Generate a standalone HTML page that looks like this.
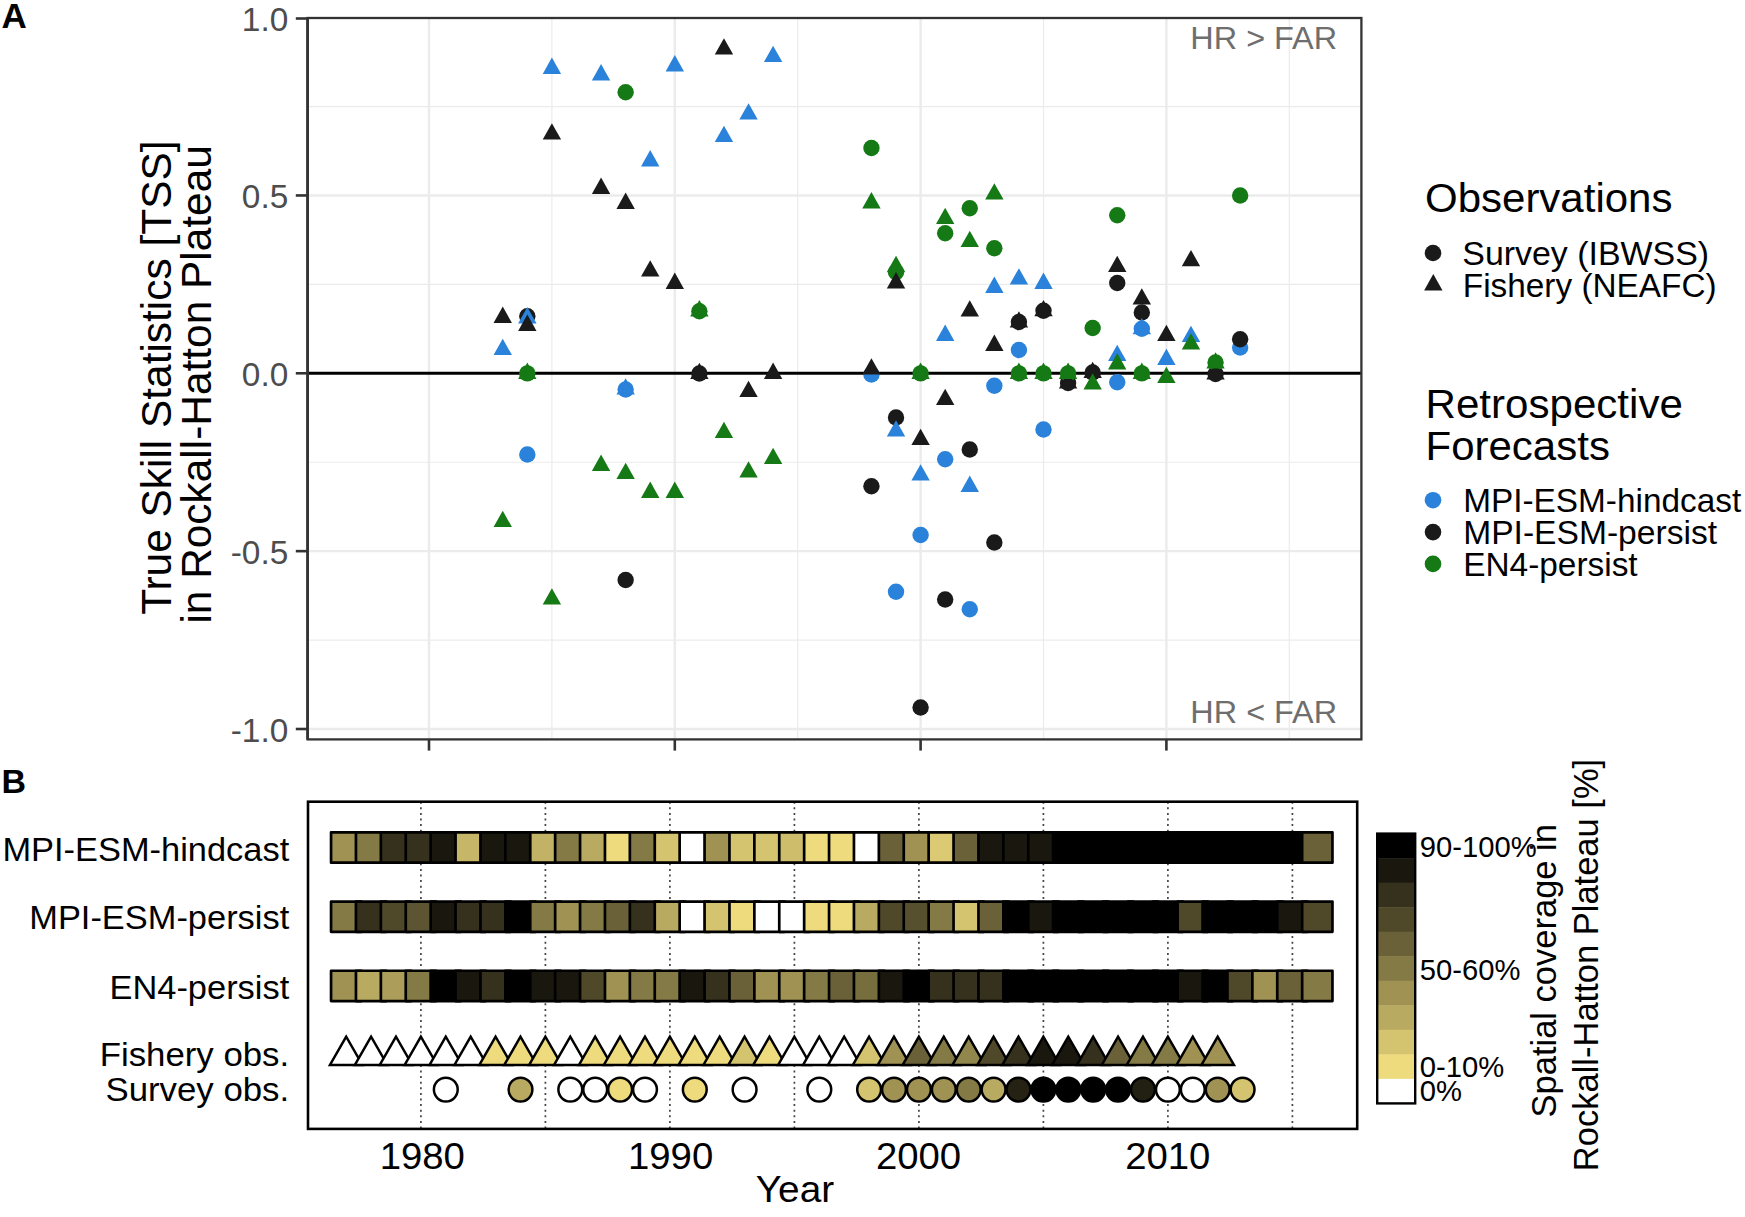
<!DOCTYPE html>
<html lang="en"><head><meta charset="utf-8"><title>Figure</title>
<style>html,body{margin:0;padding:0;background:#fff}svg{display:block}</style></head>
<body>
<svg width="1745" height="1217" viewBox="0 0 1745 1217" font-family='"Liberation Sans", Arial, Helvetica, sans-serif'>
<rect width="1745" height="1217" fill="#fff"/>
<g stroke="#ebebeb" fill="none">
<line x1="307.6" x2="1361.4" y1="640.08" y2="640.08" stroke-width="1.2"/>
<line x1="307.6" x2="1361.4" y1="462.23" y2="462.23" stroke-width="1.2"/>
<line x1="307.6" x2="1361.4" y1="284.38" y2="284.38" stroke-width="1.2"/>
<line x1="307.6" x2="1361.4" y1="106.53" y2="106.53" stroke-width="1.2"/>
<line x1="551.90" x2="551.90" y1="18.0" y2="739.4" stroke-width="1.2"/>
<line x1="797.70" x2="797.70" y1="18.0" y2="739.4" stroke-width="1.2"/>
<line x1="1043.50" x2="1043.50" y1="18.0" y2="739.4" stroke-width="1.2"/>
<line x1="1289.30" x2="1289.30" y1="18.0" y2="739.4" stroke-width="1.2"/>
<line x1="307.6" x2="1361.4" y1="729.00" y2="729.00" stroke-width="2.4"/>
<line x1="307.6" x2="1361.4" y1="551.15" y2="551.15" stroke-width="2.4"/>
<line x1="307.6" x2="1361.4" y1="195.45" y2="195.45" stroke-width="2.4"/>
<line x1="429.00" x2="429.00" y1="18.0" y2="739.4" stroke-width="2.4"/>
<line x1="674.80" x2="674.80" y1="18.0" y2="739.4" stroke-width="2.4"/>
<line x1="920.60" x2="920.60" y1="18.0" y2="739.4" stroke-width="2.4"/>
<line x1="1166.40" x2="1166.40" y1="18.0" y2="739.4" stroke-width="2.4"/>
</g>
<line x1="307.6" x2="1361.4" y1="373.3" y2="373.3" stroke="#000" stroke-width="3"/>
<g>
<circle cx="527.32" cy="454.50" r="8.2" fill="#2a82da"/>
<circle cx="625.64" cy="389.50" r="8.2" fill="#2a82da"/>
<circle cx="871.44" cy="374.50" r="8.2" fill="#2a82da"/>
<circle cx="896.02" cy="591.75" r="8.2" fill="#2a82da"/>
<circle cx="920.60" cy="535.00" r="8.2" fill="#2a82da"/>
<circle cx="945.18" cy="459.25" r="8.2" fill="#2a82da"/>
<circle cx="969.76" cy="609.25" r="8.2" fill="#2a82da"/>
<circle cx="994.34" cy="385.75" r="8.2" fill="#2a82da"/>
<circle cx="1018.92" cy="350.00" r="8.2" fill="#2a82da"/>
<circle cx="1043.50" cy="429.50" r="8.2" fill="#2a82da"/>
<circle cx="1117.24" cy="382.30" r="8.2" fill="#2a82da"/>
<circle cx="1141.82" cy="328.75" r="8.2" fill="#2a82da"/>
<circle cx="1240.14" cy="347.50" r="8.2" fill="#2a82da"/>
<circle cx="527.32" cy="316.25" r="8.2" fill="#1a1a1a"/>
<circle cx="625.64" cy="580.00" r="8.2" fill="#1a1a1a"/>
<circle cx="699.38" cy="373.50" r="8.2" fill="#1a1a1a"/>
<circle cx="871.44" cy="486.25" r="8.2" fill="#1a1a1a"/>
<circle cx="896.02" cy="417.50" r="8.2" fill="#1a1a1a"/>
<circle cx="920.60" cy="707.50" r="8.2" fill="#1a1a1a"/>
<circle cx="945.18" cy="599.50" r="8.2" fill="#1a1a1a"/>
<circle cx="969.76" cy="449.50" r="8.2" fill="#1a1a1a"/>
<circle cx="994.34" cy="542.50" r="8.2" fill="#1a1a1a"/>
<circle cx="1018.92" cy="322.00" r="8.2" fill="#1a1a1a"/>
<circle cx="1043.50" cy="310.75" r="8.2" fill="#1a1a1a"/>
<circle cx="1068.08" cy="383.00" r="8.2" fill="#1a1a1a"/>
<circle cx="1092.66" cy="372.50" r="8.2" fill="#1a1a1a"/>
<circle cx="1117.24" cy="283.00" r="8.2" fill="#1a1a1a"/>
<circle cx="1141.82" cy="312.50" r="8.2" fill="#1a1a1a"/>
<circle cx="1215.56" cy="374.00" r="8.2" fill="#1a1a1a"/>
<circle cx="1240.14" cy="339.25" r="8.2" fill="#1a1a1a"/>
<circle cx="527.32" cy="373.40" r="8.2" fill="#157a15"/>
<circle cx="625.64" cy="92.30" r="8.2" fill="#157a15"/>
<circle cx="699.38" cy="311.25" r="8.2" fill="#157a15"/>
<circle cx="871.44" cy="148.00" r="8.2" fill="#157a15"/>
<circle cx="896.02" cy="272.30" r="8.2" fill="#157a15"/>
<circle cx="920.60" cy="373.40" r="8.2" fill="#157a15"/>
<circle cx="945.18" cy="233.25" r="8.2" fill="#157a15"/>
<circle cx="969.76" cy="208.25" r="8.2" fill="#157a15"/>
<circle cx="994.34" cy="248.25" r="8.2" fill="#157a15"/>
<circle cx="1018.92" cy="373.40" r="8.2" fill="#157a15"/>
<circle cx="1043.50" cy="373.40" r="8.2" fill="#157a15"/>
<circle cx="1068.08" cy="373.40" r="8.2" fill="#157a15"/>
<circle cx="1092.66" cy="328.00" r="8.2" fill="#157a15"/>
<circle cx="1117.24" cy="215.25" r="8.2" fill="#157a15"/>
<circle cx="1141.82" cy="373.40" r="8.2" fill="#157a15"/>
<circle cx="1215.56" cy="362.50" r="8.2" fill="#157a15"/>
<circle cx="1240.14" cy="195.50" r="8.2" fill="#157a15"/>
<polygon points="502.74,338.70 493.54,355.10 511.94,355.10" fill="#2a82da"/>
<polygon points="527.32,307.00 518.12,323.40 536.52,323.40" fill="#2a82da"/>
<polygon points="551.90,57.50 542.70,73.90 561.10,73.90" fill="#2a82da"/>
<polygon points="601.06,64.00 591.86,80.40 610.26,80.40" fill="#2a82da"/>
<polygon points="625.64,378.20 616.44,394.60 634.84,394.60" fill="#2a82da"/>
<polygon points="650.22,150.00 641.02,166.40 659.42,166.40" fill="#2a82da"/>
<polygon points="674.80,55.00 665.60,71.40 684.00,71.40" fill="#2a82da"/>
<polygon points="723.96,125.70 714.76,142.10 733.16,142.10" fill="#2a82da"/>
<polygon points="748.54,103.20 739.34,119.60 757.74,119.60" fill="#2a82da"/>
<polygon points="773.12,45.70 763.92,62.10 782.32,62.10" fill="#2a82da"/>
<polygon points="896.02,420.20 886.82,436.60 905.22,436.60" fill="#2a82da"/>
<polygon points="920.60,464.20 911.40,480.60 929.80,480.60" fill="#2a82da"/>
<polygon points="945.18,324.50 935.98,340.90 954.38,340.90" fill="#2a82da"/>
<polygon points="969.76,475.50 960.56,491.90 978.96,491.90" fill="#2a82da"/>
<polygon points="994.34,276.50 985.14,292.90 1003.54,292.90" fill="#2a82da"/>
<polygon points="1018.92,268.20 1009.72,284.60 1028.12,284.60" fill="#2a82da"/>
<polygon points="1043.50,272.50 1034.30,288.90 1052.70,288.90" fill="#2a82da"/>
<polygon points="1117.24,344.70 1108.04,361.10 1126.44,361.10" fill="#2a82da"/>
<polygon points="1141.82,317.95 1132.62,334.35 1151.02,334.35" fill="#2a82da"/>
<polygon points="1166.40,348.70 1157.20,365.10 1175.60,365.10" fill="#2a82da"/>
<polygon points="1190.98,325.70 1181.78,342.10 1200.18,342.10" fill="#2a82da"/>
<polygon points="502.74,306.50 493.54,322.90 511.94,322.90" fill="#1a1a1a"/>
<polygon points="527.32,314.50 518.12,330.90 536.52,330.90" fill="#1a1a1a"/>
<polygon points="551.90,123.20 542.70,139.60 561.10,139.60" fill="#1a1a1a"/>
<polygon points="601.06,177.50 591.86,193.90 610.26,193.90" fill="#1a1a1a"/>
<polygon points="625.64,192.50 616.44,208.90 634.84,208.90" fill="#1a1a1a"/>
<polygon points="650.22,260.20 641.02,276.60 659.42,276.60" fill="#1a1a1a"/>
<polygon points="674.80,272.50 665.60,288.90 684.00,288.90" fill="#1a1a1a"/>
<polygon points="699.38,362.70 690.18,379.10 708.58,379.10" fill="#1a1a1a"/>
<polygon points="723.96,38.20 714.76,54.60 733.16,54.60" fill="#1a1a1a"/>
<polygon points="748.54,380.70 739.34,397.10 757.74,397.10" fill="#1a1a1a"/>
<polygon points="773.12,362.50 763.92,378.90 782.32,378.90" fill="#1a1a1a"/>
<polygon points="871.44,358.20 862.24,374.60 880.64,374.60" fill="#1a1a1a"/>
<polygon points="896.02,272.00 886.82,288.40 905.22,288.40" fill="#1a1a1a"/>
<polygon points="920.60,428.70 911.40,445.10 929.80,445.10" fill="#1a1a1a"/>
<polygon points="945.18,388.70 935.98,405.10 954.38,405.10" fill="#1a1a1a"/>
<polygon points="969.76,300.20 960.56,316.60 978.96,316.60" fill="#1a1a1a"/>
<polygon points="994.34,334.50 985.14,350.90 1003.54,350.90" fill="#1a1a1a"/>
<polygon points="1018.92,311.20 1009.72,327.60 1028.12,327.60" fill="#1a1a1a"/>
<polygon points="1043.50,299.95 1034.30,316.35 1052.70,316.35" fill="#1a1a1a"/>
<polygon points="1068.08,372.20 1058.88,388.60 1077.28,388.60" fill="#1a1a1a"/>
<polygon points="1092.66,361.70 1083.46,378.10 1101.86,378.10" fill="#1a1a1a"/>
<polygon points="1117.24,255.70 1108.04,272.10 1126.44,272.10" fill="#1a1a1a"/>
<polygon points="1141.82,288.20 1132.62,304.60 1151.02,304.60" fill="#1a1a1a"/>
<polygon points="1166.40,324.70 1157.20,341.10 1175.60,341.10" fill="#1a1a1a"/>
<polygon points="1190.98,249.90 1181.78,266.30 1200.18,266.30" fill="#1a1a1a"/>
<polygon points="1215.56,363.20 1206.36,379.60 1224.76,379.60" fill="#1a1a1a"/>
<polygon points="502.74,510.70 493.54,527.10 511.94,527.10" fill="#157a15"/>
<polygon points="527.32,362.60 518.12,379.00 536.52,379.00" fill="#157a15"/>
<polygon points="551.90,588.20 542.70,604.60 561.10,604.60" fill="#157a15"/>
<polygon points="601.06,454.50 591.86,470.90 610.26,470.90" fill="#157a15"/>
<polygon points="625.64,462.70 616.44,479.10 634.84,479.10" fill="#157a15"/>
<polygon points="650.22,481.50 641.02,497.90 659.42,497.90" fill="#157a15"/>
<polygon points="674.80,481.50 665.60,497.90 684.00,497.90" fill="#157a15"/>
<polygon points="699.38,300.00 690.18,316.40 708.58,316.40" fill="#157a15"/>
<polygon points="723.96,421.70 714.76,438.10 733.16,438.10" fill="#157a15"/>
<polygon points="748.54,461.20 739.34,477.60 757.74,477.60" fill="#157a15"/>
<polygon points="773.12,447.70 763.92,464.10 782.32,464.10" fill="#157a15"/>
<polygon points="871.44,192.00 862.24,208.40 880.64,208.40" fill="#157a15"/>
<polygon points="896.02,255.70 886.82,272.10 905.22,272.10" fill="#157a15"/>
<polygon points="920.60,362.60 911.40,379.00 929.80,379.00" fill="#157a15"/>
<polygon points="945.18,207.70 935.98,224.10 954.38,224.10" fill="#157a15"/>
<polygon points="969.76,230.70 960.56,247.10 978.96,247.10" fill="#157a15"/>
<polygon points="994.34,183.20 985.14,199.60 1003.54,199.60" fill="#157a15"/>
<polygon points="1018.92,362.60 1009.72,379.00 1028.12,379.00" fill="#157a15"/>
<polygon points="1043.50,362.60 1034.30,379.00 1052.70,379.00" fill="#157a15"/>
<polygon points="1068.08,362.60 1058.88,379.00 1077.28,379.00" fill="#157a15"/>
<polygon points="1092.66,373.20 1083.46,389.60 1101.86,389.60" fill="#157a15"/>
<polygon points="1117.24,353.20 1108.04,369.60 1126.44,369.60" fill="#157a15"/>
<polygon points="1141.82,362.60 1132.62,379.00 1151.02,379.00" fill="#157a15"/>
<polygon points="1166.40,366.70 1157.20,383.10 1175.60,383.10" fill="#157a15"/>
<polygon points="1190.98,333.20 1181.78,349.60 1200.18,349.60" fill="#157a15"/>
<polygon points="1215.56,352.20 1206.36,368.60 1224.76,368.60" fill="#157a15"/>
</g>
<text x="1190.37" y="48.50" font-size="31.4" fill="#6e6e6e" textLength="146.73" lengthAdjust="spacingAndGlyphs">HR &gt; FAR</text>
<text x="1190.37" y="722.80" font-size="31.4" fill="#6e6e6e" textLength="146.73" lengthAdjust="spacingAndGlyphs">HR &lt; FAR</text>
<rect x="307.6" y="18.0" width="1053.8000000000002" height="721.4" fill="none" stroke="#333" stroke-width="2.3"/>
<line x1="307.6" x2="307.6" y1="18.0" y2="739.4" stroke="#333" stroke-width="2.7"/>
<g stroke="#333" stroke-width="2.6">
<line x1="295.8" x2="307.6" y1="729.00" y2="729.00"/>
<line x1="295.8" x2="307.6" y1="551.15" y2="551.15"/>
<line x1="295.8" x2="307.6" y1="373.30" y2="373.30"/>
<line x1="295.8" x2="307.6" y1="195.45" y2="195.45"/>
<line x1="295.8" x2="307.6" y1="18.50" y2="18.50"/>
<line x1="429.00" x2="429.00" y1="739.4" y2="750.6"/>
<line x1="674.80" x2="674.80" y1="739.4" y2="750.6"/>
<line x1="920.60" x2="920.60" y1="739.4" y2="750.6"/>
<line x1="1166.40" x2="1166.40" y1="739.4" y2="750.6"/>
</g>
<text x="241.87" y="31.00" font-size="33.8" fill="#4d4d4d" textLength="46.43" lengthAdjust="spacingAndGlyphs">1.0</text>
<text x="241.87" y="208.15" font-size="33.8" fill="#4d4d4d" textLength="46.43" lengthAdjust="spacingAndGlyphs">0.5</text>
<text x="241.87" y="386.00" font-size="33.8" fill="#4d4d4d" textLength="46.43" lengthAdjust="spacingAndGlyphs">0.0</text>
<text x="230.75" y="563.85" font-size="33.8" fill="#4d4d4d" textLength="57.55" lengthAdjust="spacingAndGlyphs">-0.5</text>
<text x="230.75" y="741.70" font-size="33.8" fill="#4d4d4d" textLength="57.55" lengthAdjust="spacingAndGlyphs">-1.0</text>
<text transform="translate(171.30,377.70) rotate(-90)" x="-237.18" y="0" font-size="42.4" fill="#000" textLength="474.35" lengthAdjust="spacingAndGlyphs">True Skill Statistics [TSS]</text>
<text transform="translate(211.20,384.40) rotate(-90)" x="-239.22" y="0" font-size="42.4" fill="#000" textLength="478.43" lengthAdjust="spacingAndGlyphs">in Rockall-Hatton Plateau</text>
<text x="1425.00" y="212.30" font-size="40.4" fill="#000" textLength="247.45" lengthAdjust="spacingAndGlyphs">Observations</text>
<circle cx="1433.00" cy="253.00" r="8.3" fill="#1a1a1a"/>
<polygon points="1433.30,274.10 1424.10,290.50 1442.50,290.50" fill="#1a1a1a"/>
<text x="1462.30" y="265.20" font-size="32.3" fill="#000" textLength="246.75" lengthAdjust="spacingAndGlyphs">Survey (IBWSS)</text>
<text x="1462.80" y="297.10" font-size="32.3" fill="#000" textLength="253.84" lengthAdjust="spacingAndGlyphs">Fishery (NEAFC)</text>
<text x="1425.50" y="418.20" font-size="40.4" fill="#000" textLength="257.39" lengthAdjust="spacingAndGlyphs">Retrospective</text>
<text x="1425.50" y="459.90" font-size="40.4" fill="#000" textLength="184.39" lengthAdjust="spacingAndGlyphs">Forecasts</text>
<circle cx="1433.00" cy="500.20" r="8.3" fill="#2a82da"/>
<circle cx="1433.00" cy="532.10" r="8.3" fill="#1a1a1a"/>
<circle cx="1433.00" cy="563.90" r="8.3" fill="#157a15"/>
<text x="1463.20" y="512.30" font-size="32.3" fill="#000" textLength="277.99" lengthAdjust="spacingAndGlyphs">MPI-ESM-hindcast</text>
<text x="1463.20" y="544.00" font-size="32.3" fill="#000" textLength="253.89" lengthAdjust="spacingAndGlyphs">MPI-ESM-persist</text>
<text x="1463.20" y="575.50" font-size="32.3" fill="#000" textLength="174.47" lengthAdjust="spacingAndGlyphs">EN4-persist</text>
<text x="1.60" y="27.90" font-size="35" fill="#000" textLength="25.28" lengthAdjust="spacingAndGlyphs" font-weight="bold">A</text>
<text x="1.40" y="792.60" font-size="34" fill="#000" textLength="24.55" lengthAdjust="spacingAndGlyphs" font-weight="bold">B</text>
<g stroke="#444" stroke-width="1.7" stroke-dasharray="2 3.6">
<line x1="420.90" x2="420.90" y1="801.7" y2="1128.9"/>
<line x1="545.40" x2="545.40" y1="801.7" y2="1128.9"/>
<line x1="669.90" x2="669.90" y1="801.7" y2="1128.9"/>
<line x1="794.40" x2="794.40" y1="801.7" y2="1128.9"/>
<line x1="918.90" x2="918.90" y1="801.7" y2="1128.9"/>
<line x1="1043.40" x2="1043.40" y1="801.7" y2="1128.9"/>
<line x1="1167.90" x2="1167.90" y1="801.7" y2="1128.9"/>
<line x1="1292.40" x2="1292.40" y1="801.7" y2="1128.9"/>
</g>
<g stroke="#000" stroke-width="2.7" stroke-linejoin="round">
<rect x="331.05" y="832.35" width="30.3" height="30.3" fill="#9f9253"/>
<rect x="355.95" y="832.35" width="30.3" height="30.3" fill="#847a45"/>
<rect x="380.85" y="832.35" width="30.3" height="30.3" fill="#35311c"/>
<rect x="405.75" y="832.35" width="30.3" height="30.3" fill="#35311c"/>
<rect x="430.65" y="832.35" width="30.3" height="30.3" fill="#1a180e"/>
<rect x="455.55" y="832.35" width="30.3" height="30.3" fill="#c6b668"/>
<rect x="480.45" y="832.35" width="30.3" height="30.3" fill="#1a180e"/>
<rect x="505.35" y="832.35" width="30.3" height="30.3" fill="#1a180e"/>
<rect x="530.25" y="832.35" width="30.3" height="30.3" fill="#c1b265"/>
<rect x="555.15" y="832.35" width="30.3" height="30.3" fill="#847a45"/>
<rect x="580.05" y="832.35" width="30.3" height="30.3" fill="#b9aa61"/>
<rect x="604.95" y="832.35" width="30.3" height="30.3" fill="#eedb7d"/>
<rect x="629.85" y="832.35" width="30.3" height="30.3" fill="#847a45"/>
<rect x="654.75" y="832.35" width="30.3" height="30.3" fill="#d4c36f"/>
<rect x="679.65" y="832.35" width="30.3" height="30.3" fill="#ffffff"/>
<rect x="704.55" y="832.35" width="30.3" height="30.3" fill="#9f9253"/>
<rect x="729.45" y="832.35" width="30.3" height="30.3" fill="#d4c36f"/>
<rect x="754.35" y="832.35" width="30.3" height="30.3" fill="#d4c36f"/>
<rect x="779.25" y="832.35" width="30.3" height="30.3" fill="#cebe6c"/>
<rect x="804.15" y="832.35" width="30.3" height="30.3" fill="#eedb7d"/>
<rect x="829.05" y="832.35" width="30.3" height="30.3" fill="#eedb7d"/>
<rect x="853.95" y="832.35" width="30.3" height="30.3" fill="#ffffff"/>
<rect x="878.85" y="832.35" width="30.3" height="30.3" fill="#6a6138"/>
<rect x="903.75" y="832.35" width="30.3" height="30.3" fill="#9f9253"/>
<rect x="928.65" y="832.35" width="30.3" height="30.3" fill="#dbca73"/>
<rect x="953.55" y="832.35" width="30.3" height="30.3" fill="#6a6138"/>
<rect x="978.45" y="832.35" width="30.3" height="30.3" fill="#1a180e"/>
<rect x="1003.35" y="832.35" width="30.3" height="30.3" fill="#1a180e"/>
<rect x="1028.25" y="832.35" width="30.3" height="30.3" fill="#1a180e"/>
<rect x="1053.15" y="832.35" width="30.3" height="30.3" fill="#000000"/>
<rect x="1078.05" y="832.35" width="30.3" height="30.3" fill="#000000"/>
<rect x="1102.95" y="832.35" width="30.3" height="30.3" fill="#000000"/>
<rect x="1127.85" y="832.35" width="30.3" height="30.3" fill="#000000"/>
<rect x="1152.75" y="832.35" width="30.3" height="30.3" fill="#000000"/>
<rect x="1177.65" y="832.35" width="30.3" height="30.3" fill="#000000"/>
<rect x="1202.55" y="832.35" width="30.3" height="30.3" fill="#000000"/>
<rect x="1227.45" y="832.35" width="30.3" height="30.3" fill="#000000"/>
<rect x="1252.35" y="832.35" width="30.3" height="30.3" fill="#000000"/>
<rect x="1277.25" y="832.35" width="30.3" height="30.3" fill="#000000"/>
<rect x="1302.15" y="832.35" width="30.3" height="30.3" fill="#6a6138"/>
</g>
<g stroke="#000" stroke-width="2.7" stroke-linejoin="round">
<rect x="331.05" y="901.55" width="30.3" height="30.3" fill="#847a45"/>
<rect x="355.95" y="901.55" width="30.3" height="30.3" fill="#35311c"/>
<rect x="380.85" y="901.55" width="30.3" height="30.3" fill="#4f492a"/>
<rect x="405.75" y="901.55" width="30.3" height="30.3" fill="#5d5531"/>
<rect x="430.65" y="901.55" width="30.3" height="30.3" fill="#1a180e"/>
<rect x="455.55" y="901.55" width="30.3" height="30.3" fill="#35311c"/>
<rect x="480.45" y="901.55" width="30.3" height="30.3" fill="#35311c"/>
<rect x="505.35" y="901.55" width="30.3" height="30.3" fill="#000000"/>
<rect x="530.25" y="901.55" width="30.3" height="30.3" fill="#847a45"/>
<rect x="555.15" y="901.55" width="30.3" height="30.3" fill="#9f9253"/>
<rect x="580.05" y="901.55" width="30.3" height="30.3" fill="#847a45"/>
<rect x="604.95" y="901.55" width="30.3" height="30.3" fill="#6a6138"/>
<rect x="629.85" y="901.55" width="30.3" height="30.3" fill="#35311c"/>
<rect x="654.75" y="901.55" width="30.3" height="30.3" fill="#b9aa61"/>
<rect x="679.65" y="901.55" width="30.3" height="30.3" fill="#ffffff"/>
<rect x="704.55" y="901.55" width="30.3" height="30.3" fill="#d4c36f"/>
<rect x="729.45" y="901.55" width="30.3" height="30.3" fill="#eedb7d"/>
<rect x="754.35" y="901.55" width="30.3" height="30.3" fill="#ffffff"/>
<rect x="779.25" y="901.55" width="30.3" height="30.3" fill="#ffffff"/>
<rect x="804.15" y="901.55" width="30.3" height="30.3" fill="#eedb7d"/>
<rect x="829.05" y="901.55" width="30.3" height="30.3" fill="#eedb7d"/>
<rect x="853.95" y="901.55" width="30.3" height="30.3" fill="#b9aa61"/>
<rect x="878.85" y="901.55" width="30.3" height="30.3" fill="#4f492a"/>
<rect x="903.75" y="901.55" width="30.3" height="30.3" fill="#57502e"/>
<rect x="928.65" y="901.55" width="30.3" height="30.3" fill="#847a45"/>
<rect x="953.55" y="901.55" width="30.3" height="30.3" fill="#d4c36f"/>
<rect x="978.45" y="901.55" width="30.3" height="30.3" fill="#6a6138"/>
<rect x="1003.35" y="901.55" width="30.3" height="30.3" fill="#000000"/>
<rect x="1028.25" y="901.55" width="30.3" height="30.3" fill="#1a180e"/>
<rect x="1053.15" y="901.55" width="30.3" height="30.3" fill="#000000"/>
<rect x="1078.05" y="901.55" width="30.3" height="30.3" fill="#000000"/>
<rect x="1102.95" y="901.55" width="30.3" height="30.3" fill="#000000"/>
<rect x="1127.85" y="901.55" width="30.3" height="30.3" fill="#000000"/>
<rect x="1152.75" y="901.55" width="30.3" height="30.3" fill="#000000"/>
<rect x="1177.65" y="901.55" width="30.3" height="30.3" fill="#4f492a"/>
<rect x="1202.55" y="901.55" width="30.3" height="30.3" fill="#000000"/>
<rect x="1227.45" y="901.55" width="30.3" height="30.3" fill="#000000"/>
<rect x="1252.35" y="901.55" width="30.3" height="30.3" fill="#000000"/>
<rect x="1277.25" y="901.55" width="30.3" height="30.3" fill="#1a180e"/>
<rect x="1302.15" y="901.55" width="30.3" height="30.3" fill="#4f492a"/>
</g>
<g stroke="#000" stroke-width="2.7" stroke-linejoin="round">
<rect x="331.05" y="970.75" width="30.3" height="30.3" fill="#9f9253"/>
<rect x="355.95" y="970.75" width="30.3" height="30.3" fill="#b9aa61"/>
<rect x="380.85" y="970.75" width="30.3" height="30.3" fill="#ac9e5a"/>
<rect x="405.75" y="970.75" width="30.3" height="30.3" fill="#847a45"/>
<rect x="430.65" y="970.75" width="30.3" height="30.3" fill="#000000"/>
<rect x="455.55" y="970.75" width="30.3" height="30.3" fill="#1a180e"/>
<rect x="480.45" y="970.75" width="30.3" height="30.3" fill="#35311c"/>
<rect x="505.35" y="970.75" width="30.3" height="30.3" fill="#000000"/>
<rect x="530.25" y="970.75" width="30.3" height="30.3" fill="#1a180e"/>
<rect x="555.15" y="970.75" width="30.3" height="30.3" fill="#1a180e"/>
<rect x="580.05" y="970.75" width="30.3" height="30.3" fill="#4f492a"/>
<rect x="604.95" y="970.75" width="30.3" height="30.3" fill="#9f9253"/>
<rect x="629.85" y="970.75" width="30.3" height="30.3" fill="#847a45"/>
<rect x="654.75" y="970.75" width="30.3" height="30.3" fill="#847a45"/>
<rect x="679.65" y="970.75" width="30.3" height="30.3" fill="#1a180e"/>
<rect x="704.55" y="970.75" width="30.3" height="30.3" fill="#35311c"/>
<rect x="729.45" y="970.75" width="30.3" height="30.3" fill="#6a6138"/>
<rect x="754.35" y="970.75" width="30.3" height="30.3" fill="#9f9253"/>
<rect x="779.25" y="970.75" width="30.3" height="30.3" fill="#9f9253"/>
<rect x="804.15" y="970.75" width="30.3" height="30.3" fill="#847a45"/>
<rect x="829.05" y="970.75" width="30.3" height="30.3" fill="#6a6138"/>
<rect x="853.95" y="970.75" width="30.3" height="30.3" fill="#776e3e"/>
<rect x="878.85" y="970.75" width="30.3" height="30.3" fill="#1a180e"/>
<rect x="903.75" y="970.75" width="30.3" height="30.3" fill="#000000"/>
<rect x="928.65" y="970.75" width="30.3" height="30.3" fill="#35311c"/>
<rect x="953.55" y="970.75" width="30.3" height="30.3" fill="#35311c"/>
<rect x="978.45" y="970.75" width="30.3" height="30.3" fill="#35311c"/>
<rect x="1003.35" y="970.75" width="30.3" height="30.3" fill="#000000"/>
<rect x="1028.25" y="970.75" width="30.3" height="30.3" fill="#000000"/>
<rect x="1053.15" y="970.75" width="30.3" height="30.3" fill="#000000"/>
<rect x="1078.05" y="970.75" width="30.3" height="30.3" fill="#000000"/>
<rect x="1102.95" y="970.75" width="30.3" height="30.3" fill="#000000"/>
<rect x="1127.85" y="970.75" width="30.3" height="30.3" fill="#000000"/>
<rect x="1152.75" y="970.75" width="30.3" height="30.3" fill="#000000"/>
<rect x="1177.65" y="970.75" width="30.3" height="30.3" fill="#1a180e"/>
<rect x="1202.55" y="970.75" width="30.3" height="30.3" fill="#000000"/>
<rect x="1227.45" y="970.75" width="30.3" height="30.3" fill="#4f492a"/>
<rect x="1252.35" y="970.75" width="30.3" height="30.3" fill="#9f9253"/>
<rect x="1277.25" y="970.75" width="30.3" height="30.3" fill="#6a6138"/>
<rect x="1302.15" y="970.75" width="30.3" height="30.3" fill="#847a45"/>
</g>
<g stroke="#000" stroke-width="2.5" stroke-linejoin="miter">
<polygon points="346.20,1036.7 329.95,1065.0 362.45,1065.0" fill="#ffffff"/>
<polygon points="371.10,1036.7 354.85,1065.0 387.35,1065.0" fill="#ffffff"/>
<polygon points="396.00,1036.7 379.75,1065.0 412.25,1065.0" fill="#ffffff"/>
<polygon points="420.90,1036.7 404.65,1065.0 437.15,1065.0" fill="#ffffff"/>
<polygon points="445.80,1036.7 429.55,1065.0 462.05,1065.0" fill="#ffffff"/>
<polygon points="470.70,1036.7 454.45,1065.0 486.95,1065.0" fill="#ffffff"/>
<polygon points="495.60,1036.7 479.35,1065.0 511.85,1065.0" fill="#eedb7d"/>
<polygon points="520.50,1036.7 504.25,1065.0 536.75,1065.0" fill="#eedb7d"/>
<polygon points="545.40,1036.7 529.15,1065.0 561.65,1065.0" fill="#eedb7d"/>
<polygon points="570.30,1036.7 554.05,1065.0 586.55,1065.0" fill="#ffffff"/>
<polygon points="595.20,1036.7 578.95,1065.0 611.45,1065.0" fill="#eedb7d"/>
<polygon points="620.10,1036.7 603.85,1065.0 636.35,1065.0" fill="#eedb7d"/>
<polygon points="645.00,1036.7 628.75,1065.0 661.25,1065.0" fill="#eedb7d"/>
<polygon points="669.90,1036.7 653.65,1065.0 686.15,1065.0" fill="#eedb7d"/>
<polygon points="694.80,1036.7 678.55,1065.0 711.05,1065.0" fill="#eedb7d"/>
<polygon points="719.70,1036.7 703.45,1065.0 735.95,1065.0" fill="#eedb7d"/>
<polygon points="744.60,1036.7 728.35,1065.0 760.85,1065.0" fill="#d4c36f"/>
<polygon points="769.50,1036.7 753.25,1065.0 785.75,1065.0" fill="#eedb7d"/>
<polygon points="794.40,1036.7 778.15,1065.0 810.65,1065.0" fill="#ffffff"/>
<polygon points="819.30,1036.7 803.05,1065.0 835.55,1065.0" fill="#ffffff"/>
<polygon points="844.20,1036.7 827.95,1065.0 860.45,1065.0" fill="#ffffff"/>
<polygon points="869.10,1036.7 852.85,1065.0 885.35,1065.0" fill="#d4c36f"/>
<polygon points="894.00,1036.7 877.75,1065.0 910.25,1065.0" fill="#9f9253"/>
<polygon points="918.90,1036.7 902.65,1065.0 935.15,1065.0" fill="#6a6138"/>
<polygon points="943.80,1036.7 927.55,1065.0 960.05,1065.0" fill="#847a45"/>
<polygon points="968.70,1036.7 952.45,1065.0 984.95,1065.0" fill="#91864c"/>
<polygon points="993.60,1036.7 977.35,1065.0 1009.85,1065.0" fill="#4f492a"/>
<polygon points="1018.50,1036.7 1002.25,1065.0 1034.75,1065.0" fill="#35311c"/>
<polygon points="1043.40,1036.7 1027.15,1065.0 1059.65,1065.0" fill="#1a180e"/>
<polygon points="1068.30,1036.7 1052.05,1065.0 1084.55,1065.0" fill="#1a180e"/>
<polygon points="1093.20,1036.7 1076.95,1065.0 1109.45,1065.0" fill="#35311c"/>
<polygon points="1118.10,1036.7 1101.85,1065.0 1134.35,1065.0" fill="#6a6138"/>
<polygon points="1143.00,1036.7 1126.75,1065.0 1159.25,1065.0" fill="#847a45"/>
<polygon points="1167.90,1036.7 1151.65,1065.0 1184.15,1065.0" fill="#847a45"/>
<polygon points="1192.80,1036.7 1176.55,1065.0 1209.05,1065.0" fill="#9f9253"/>
<polygon points="1217.70,1036.7 1201.45,1065.0 1233.95,1065.0" fill="#9f9253"/>
</g>
<g stroke="#000" stroke-width="2.5">
<circle cx="445.80" cy="1089.6" r="11.9" fill="#ffffff"/>
<circle cx="520.50" cy="1089.6" r="11.9" fill="#b9aa61"/>
<circle cx="570.30" cy="1089.6" r="11.9" fill="#ffffff"/>
<circle cx="595.20" cy="1089.6" r="11.9" fill="#ffffff"/>
<circle cx="620.10" cy="1089.6" r="11.9" fill="#eedb7d"/>
<circle cx="645.00" cy="1089.6" r="11.9" fill="#ffffff"/>
<circle cx="694.80" cy="1089.6" r="11.9" fill="#eedb7d"/>
<circle cx="744.60" cy="1089.6" r="11.9" fill="#ffffff"/>
<circle cx="819.30" cy="1089.6" r="11.9" fill="#ffffff"/>
<circle cx="869.10" cy="1089.6" r="11.9" fill="#d4c36f"/>
<circle cx="894.00" cy="1089.6" r="11.9" fill="#9f9253"/>
<circle cx="918.90" cy="1089.6" r="11.9" fill="#9f9253"/>
<circle cx="943.80" cy="1089.6" r="11.9" fill="#9f9253"/>
<circle cx="968.70" cy="1089.6" r="11.9" fill="#847a45"/>
<circle cx="993.60" cy="1089.6" r="11.9" fill="#b9aa61"/>
<circle cx="1018.50" cy="1089.6" r="11.9" fill="#252213"/>
<circle cx="1043.40" cy="1089.6" r="11.9" fill="#000000"/>
<circle cx="1068.30" cy="1089.6" r="11.9" fill="#000000"/>
<circle cx="1093.20" cy="1089.6" r="11.9" fill="#000000"/>
<circle cx="1118.10" cy="1089.6" r="11.9" fill="#000000"/>
<circle cx="1143.00" cy="1089.6" r="11.9" fill="#222012"/>
<circle cx="1167.90" cy="1089.6" r="11.9" fill="#ffffff"/>
<circle cx="1192.80" cy="1089.6" r="11.9" fill="#ffffff"/>
<circle cx="1217.70" cy="1089.6" r="11.9" fill="#9f9253"/>
<circle cx="1242.60" cy="1089.6" r="11.9" fill="#d4c36f"/>
</g>
<rect x="308.0" y="801.7" width="1049.2" height="327.20000000000005" fill="none" stroke="#000" stroke-width="2.6"/>
<text x="2.46" y="861.30" font-size="33.6" fill="#000" textLength="286.74" lengthAdjust="spacingAndGlyphs">MPI-ESM-hindcast</text>
<text x="29.27" y="929.20" font-size="33.6" fill="#000" textLength="259.93" lengthAdjust="spacingAndGlyphs">MPI-ESM-persist</text>
<text x="109.51" y="999.10" font-size="33.6" fill="#000" textLength="179.69" lengthAdjust="spacingAndGlyphs">EN4-persist</text>
<text x="99.67" y="1065.90" font-size="33.6" fill="#000" textLength="189.53" lengthAdjust="spacingAndGlyphs">Fishery obs.</text>
<text x="105.45" y="1101.30" font-size="33.6" fill="#000" textLength="183.75" lengthAdjust="spacingAndGlyphs">Survey obs.</text>
<text x="379.70" y="1168.60" font-size="37.5" fill="#000" textLength="85.20" lengthAdjust="spacingAndGlyphs">1980</text>
<text x="628.00" y="1168.60" font-size="37.5" fill="#000" textLength="85.20" lengthAdjust="spacingAndGlyphs">1990</text>
<text x="875.90" y="1168.60" font-size="37.5" fill="#000" textLength="85.20" lengthAdjust="spacingAndGlyphs">2000</text>
<text x="1125.20" y="1168.60" font-size="37.5" fill="#000" textLength="85.20" lengthAdjust="spacingAndGlyphs">2010</text>
<text x="755.80" y="1201.60" font-size="37.5" fill="#000" textLength="78.40" lengthAdjust="spacingAndGlyphs">Year</text>
<rect x="1377.2" y="833.60" width="38.0" height="25.03" fill="#000000"/>
<rect x="1377.2" y="858.13" width="38.0" height="25.03" fill="#1a180e"/>
<rect x="1377.2" y="882.65" width="38.0" height="25.03" fill="#35311c"/>
<rect x="1377.2" y="907.18" width="38.0" height="25.03" fill="#4f492a"/>
<rect x="1377.2" y="931.71" width="38.0" height="25.03" fill="#6a6138"/>
<rect x="1377.2" y="956.24" width="38.0" height="25.03" fill="#847a45"/>
<rect x="1377.2" y="980.76" width="38.0" height="25.03" fill="#9f9253"/>
<rect x="1377.2" y="1005.29" width="38.0" height="25.03" fill="#b9aa61"/>
<rect x="1377.2" y="1029.82" width="38.0" height="25.03" fill="#d4c36f"/>
<rect x="1377.2" y="1054.35" width="38.0" height="25.03" fill="#eedb7d"/>
<rect x="1377.2" y="1078.87" width="38.0" height="25.03" fill="#ffffff"/>
<rect x="1377.2" y="833.6" width="38.0" height="269.80000000000007" fill="none" stroke="#000" stroke-width="2.4"/>
<text x="1419.80" y="857.20" font-size="30.0" fill="#000" textLength="116.89" lengthAdjust="spacingAndGlyphs">90-100%</text>
<text x="1419.80" y="980.00" font-size="30.0" fill="#000" textLength="100.65" lengthAdjust="spacingAndGlyphs">50-60%</text>
<text x="1419.80" y="1077.20" font-size="30.0" fill="#000" textLength="84.41" lengthAdjust="spacingAndGlyphs">0-10%</text>
<text x="1419.80" y="1100.50" font-size="30.0" fill="#000" textLength="42.20" lengthAdjust="spacingAndGlyphs">0%</text>
<text transform="translate(1556.40,970.75) rotate(-90)" x="-146.72" y="0" font-size="34.5" fill="#000" textLength="293.44" lengthAdjust="spacingAndGlyphs">Spatial coverage in</text>
<text transform="translate(1597.80,965.00) rotate(-90)" x="-206.14" y="0" font-size="34.5" fill="#000" textLength="412.28" lengthAdjust="spacingAndGlyphs">Rockall-Hatton Plateau [%]</text>
</svg>
</body></html>
